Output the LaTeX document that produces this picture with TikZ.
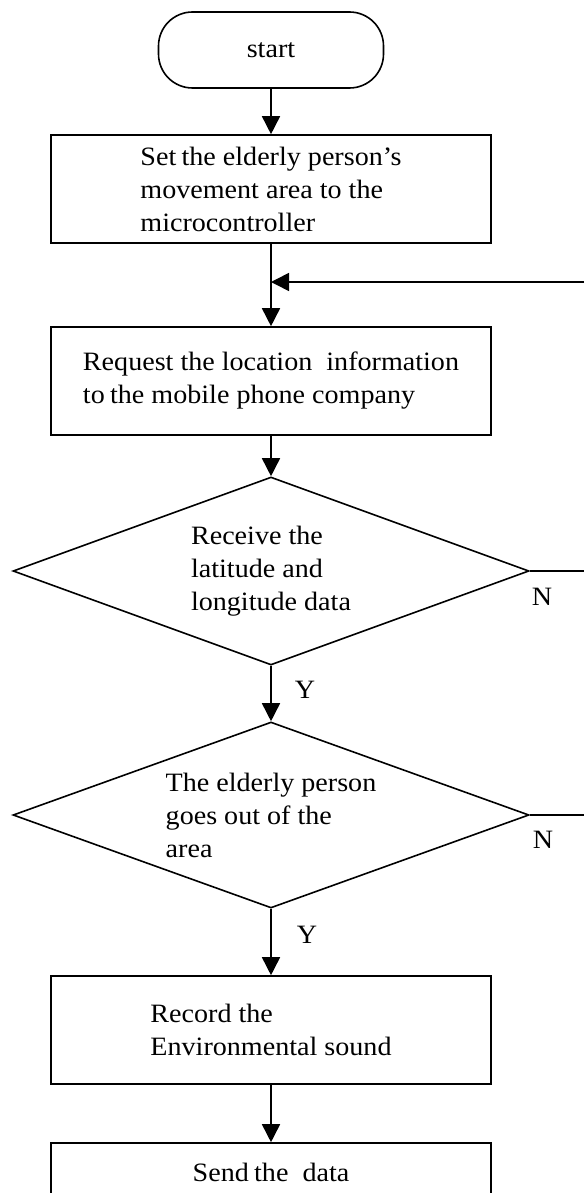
\documentclass[tikz,border=0pt]{standalone}
\usepackage{fontspec}
\setmainfont{Liberation Serif}[FakeStretch=1.06]
\usetikzlibrary{shapes.geometric,arrows.meta}
\begin{document}
\begin{tikzpicture}[x=1pt,y=-1pt,
  every node/.style={font=\fontsize{26.5}{33}\selectfont},
  box/.style={draw, line width=1.6pt, minimum width=440pt, minimum height=108pt, align=left, inner sep=0pt},
  dec/.style={draw, diamond, line width=1.6pt, minimum width=516pt, minimum height=188pt, aspect=2.75, align=left, inner sep=0pt},
  term/.style={draw, rounded corners=34pt, line width=1.6pt, minimum width=225pt, minimum height=76pt},
  conn/.style={line width=1.6pt},
  flow/.style={conn, -{Triangle[length=18pt,width=18pt]}},
  lbl/.style={inner sep=0pt}
]
\clip (0,0) rectangle (584,1193);
\node[term] (start) at (271,50) {start};
\node[box] (b1) at (271,189) {Set\kern0.2em the elderly person’s\\movement area to the\\microcontroller};
\node[box] (b2) at (271,381) {Request the location~ information\\to\kern0.2em the mobile phone company};
\node[dec] (d1) at (271,571) {Receive the\\latitude and\\longitude data};
\node[dec, minimum height=186pt] (d2) at (271,815) {The elderly person\\goes out of the\\area};
\node[box] (b3) at (271,1030) {Record the\\Environmental sound};
\node[box, minimum height=58pt] (b4) at (271,1172) {Send\kern0.2em the~ data};
\coordinate (fbR) at (584,282);
\coordinate (fbJ) at (271,282);
\coordinate (n1R) at (584,571);
\coordinate (n2R) at (584,815);
\draw[flow] (start.south) -- (b1.north);
\draw[flow] (b1.south) -- (b2.north);
\draw[flow] (fbR) -- (fbJ);
\draw[flow] (b2.south) -- (d1.north);
\draw[flow] (d1.south) -- (d2.north);
\draw[flow] (d2.south) -- (b3.north);
\draw[flow] (b3.south) -- (b4.north);
\draw[conn] (d1.east) -- (n1R);
\draw[conn] (d2.east) -- (n2R);
\node[lbl] (y1) at (305,690) {Y};
\node[lbl] (y2) at (307,935) {Y};
\node[lbl] (n1) at (542,597) {N};
\node[lbl] (n2) at (543,840) {N};
\end{tikzpicture}
\end{document}
